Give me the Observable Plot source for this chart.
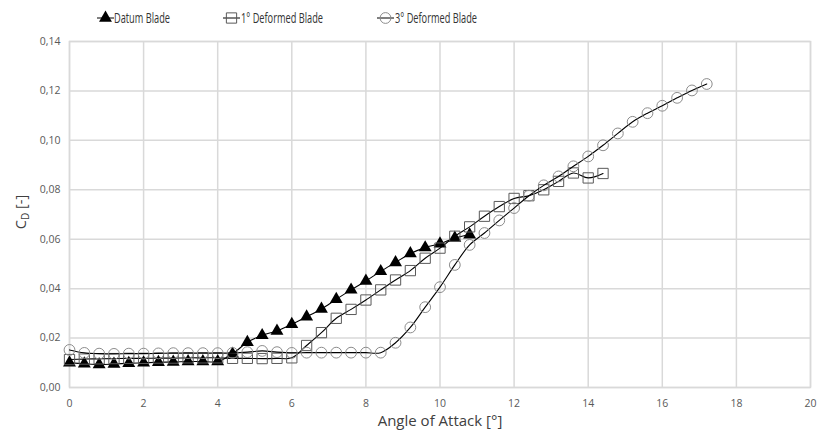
<!DOCTYPE html>
<html><head><meta charset="utf-8">
<script src="https://cdn.jsdelivr.net/npm/d3@7"></script>
<script src="https://cdn.jsdelivr.net/npm/@observablehq/plot@0.6"></script>
<style>
body{margin:0;background:#fff;font-family:"Open Sans",sans-serif;}
#wrap{position:relative;width:817px;height:435px;background:#fff;}
#legend{position:absolute;top:0;left:0;width:817px;height:32px;}
#chart{position:absolute;top:32px;left:0;}
</style></head><body>
<div id="wrap"><svg id="legend" width="817" height="32"></svg><div id="chart"></div></div>
<script>
const seriesNames = ["Datum Blade", "1° Deformed Blade", "3° Deformed Blade"];
const xTicks = [0, 2, 4, 6, 8, 10, 12, 14, 16, 18, 20];
const yTicks = [0, 0.02, 0.04, 0.06, 0.08, 0.10, 0.12, 0.14];
const xTitle = "Angle of Attack [°]";

const datumAoA = [0,0.4,0.8,1.2,1.6,2.0,2.4,2.8,3.2,3.6,4.0,4.4,4.8,5.2,5.6,6.0,6.4,6.8,7.2,7.6,8.0,8.4,8.8,9.2,9.6,10.0,10.4,10.8];
const datumCd  = [0.0100,0.0096,0.0093,0.0095,0.0098,0.0100,0.0102,0.0103,0.0105,0.0105,0.0105,0.0136,0.0183,0.0211,0.0229,0.0256,0.0286,0.0318,0.0357,0.0395,0.0431,0.0470,0.0506,0.0542,0.0566,0.0582,0.0605,0.0618];

const def1AoA = [0,0.4,0.8,1.2,1.6,2.0,2.4,2.8,3.2,3.6,4.0,4.4,4.8,5.2,5.6,6.0,6.4,6.8,7.2,7.6,8.0,8.4,8.8,9.2,9.6,10.0,10.4,10.8,11.2,11.6,12.0,12.4,12.8,13.2,13.6,14.0,14.4];
const def1Cd  = [0.0113,0.0115,0.0116,0.0117,0.0118,0.0118,0.0119,0.0119,0.0120,0.0120,0.0120,0.0118,0.0118,0.0117,0.0118,0.0120,0.0170,0.0222,0.0280,0.0316,0.0354,0.0395,0.0435,0.0473,0.0523,0.0564,0.0612,0.0650,0.0693,0.0732,0.0765,0.0776,0.0800,0.0834,0.0868,0.0848,0.0866];

const def3AoA = [0,0.4,0.8,1.2,1.6,2.0,2.4,2.8,3.2,3.6,4.0,4.4,4.8,5.2,5.6,6.0,6.4,6.8,7.2,7.6,8.0,8.4,8.8,9.2,9.6,10.0,10.4,10.8,11.2,11.6,12.0,12.4,12.8,13.2,13.6,14.0,14.4,14.8,15.2,15.6,16.0,16.4,16.8,17.2];
const def3Cd  = [0.0152,0.0140,0.0137,0.0136,0.0137,0.0137,0.0138,0.0139,0.0139,0.0139,0.0139,0.0140,0.0143,0.0148,0.0143,0.0140,0.0141,0.0141,0.0141,0.0141,0.0141,0.0141,0.0181,0.0243,0.0325,0.0406,0.0496,0.0577,0.0625,0.0676,0.0726,0.0776,0.0818,0.0854,0.0895,0.0935,0.0980,0.1028,0.1075,0.1110,0.1140,0.1172,0.1202,0.1228];

const toRows = (xs, ys) => xs.map((x, i) => ({x, y: ys[i]}));
const datum = toRows(datumAoA, datumCd);
const def1 = toRows(def1AoA, def1Cd);
const def3 = toRows(def3AoA, def3Cd);

const styles = [
  {symbol: "triangle", fill: "#000", stroke: "none", r: 4.8, sw: 0},
  {symbol: "square", fill: "none", stroke: "#595959", r: 5.8, sw: 1},
  {symbol: "circle", fill: "none", stroke: "#8c8c8c", r: 5.4, sw: 1}
];

// legend (glyph line start, text start, text width)
const legendLineX = [97, 223, 377];
const legendTextX = [114, 241, 395];
const legendTextW = [56, 82, 82];
const legend = d3.select("#legend");
seriesNames.forEach((name, i) => {
  const g = legend.append("g");
  const x0 = legendLineX[i];
  g.append("line").attr("x1", x0).attr("x2", x0 + 17).attr("y1", 18).attr("y2", 18).attr("stroke", "#000").attr("stroke-width", 1);
  const st = styles[i];
  const sym = {triangle: d3.symbolTriangle, square: d3.symbolSquare, circle: d3.symbolCircle}[st.symbol];
  g.append("path").attr("transform", `translate(${x0 + 8.5},18)`)
    .attr("d", d3.symbol(sym, Math.PI * st.r * st.r)())
    .attr("fill", st.fill).attr("stroke", st.stroke === "none" ? null : st.stroke).attr("stroke-width", st.sw);
  g.append("text").attr("x", legendTextX[i]).attr("y", 18).attr("dy", "0.36em")
    .attr("font-family", "'Open Sans', sans-serif").attr("font-size", 15).attr("fill", "#333")
    .attr("textLength", legendTextW[i]).attr("lengthAdjust", "spacingAndGlyphs")
    .text(name);
});

const H = 403;
const fmt = d => d.toFixed(2).replace(".", ",");
const data = [datum, def1, def3];
const marks = [
  Plot.gridX(xTicks, {stroke: "#d9d9d9", strokeOpacity: 1, strokeWidth: 1.5}),
  Plot.gridY(yTicks, {stroke: "#d9d9d9", strokeOpacity: 1, strokeWidth: 1.5}),
  Plot.frame({stroke: "#d9d9d9", strokeWidth: 1.5}),
  Plot.axisX(xTicks, {tickSize: 0, tickPadding: 12, label: null, fontSize: 10.5, fill: "#595959"}),
  Plot.axisY(yTicks, {tickSize: 0, tickPadding: 9, tickFormat: fmt, label: null, fontSize: 10.5, fill: "#595959"}),
  Plot.text([xTitle], {frameAnchor: "bottom", dy: 38, fontSize: 15, fill: "#404040"})
];
data.forEach((d, i) => {
  const st = styles[i];
  marks.push(Plot.line(d, {x: "x", y: "y", curve: "catmull-rom", stroke: "#000", strokeWidth: 1.1}));
  marks.push(Plot.dot(d, {x: "x", y: "y", symbol: st.symbol, r: st.r, fill: st.fill, stroke: st.stroke, strokeWidth: st.sw}));
});

const chart = Plot.plot({
  width: 817, height: H,
  marginTop: 9, marginLeft: 69, marginRight: 7, marginBottom: 48,
  x: {domain: [0, 20]},
  y: {domain: [0, 0.14]},
  style: {fontFamily: "'Open Sans', sans-serif", background: "#fff", overflow: "visible"},
  marks
});
document.getElementById("chart").appendChild(chart);

// y-axis title with subscript
const svg = d3.select(chart);
const t = svg.append("text")
  .attr("transform", `translate(26,${212 - 32}) rotate(-90)`)
  .attr("text-anchor", "middle")
  .attr("font-family", "'Open Sans', sans-serif")
  .attr("font-size", 14.5).attr("fill", "#404040");
t.append("tspan").text("C");
t.append("tspan").attr("font-size", 10).attr("dy", 3).text("D");
t.append("tspan").attr("dy", -3).text(" [-]");
</script>
</body></html>
